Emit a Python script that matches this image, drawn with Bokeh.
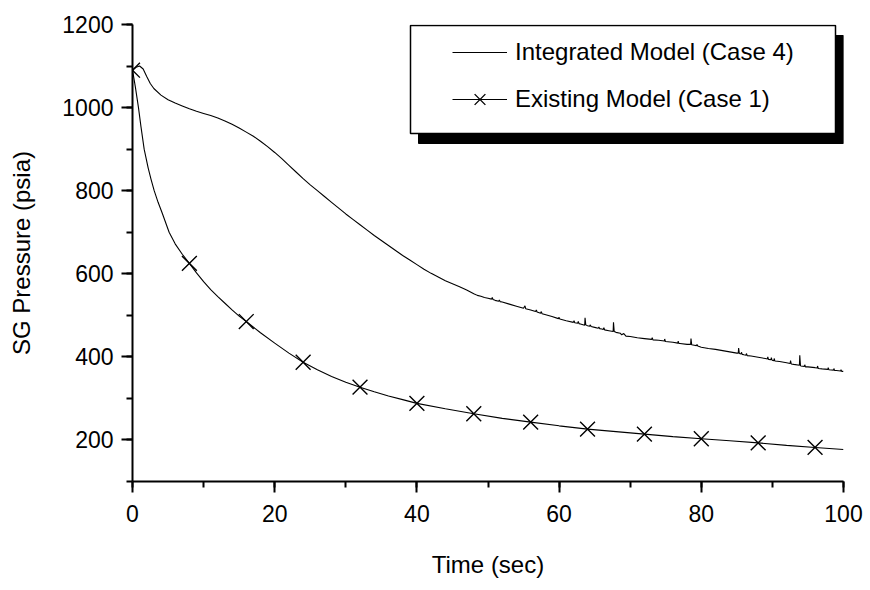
from bokeh.plotting import figure
from bokeh.models import Range1d, SingleIntervalTicker, Legend, LegendItem, BoxAnnotation
from bokeh.embed import file_html
from bokeh.resources import INLINE

# ---- data ----
# Integrated Model (Case 4): smooth early part
t_int_head = [0, 0.5, 1, 1.5, 2, 2.5, 3, 4, 5, 6, 7, 8, 9, 10, 11, 12, 13, 14, 15, 16, 17, 18, 19, 20,
              21, 22, 23, 24, 25, 26, 27, 28, 29, 30, 31, 32, 33, 34, 35, 36, 37, 38, 39, 40, 41, 42,
              43, 44, 45, 46, 47, 48]
p_int_head = [1090, 1097, 1100, 1093, 1075, 1058, 1046, 1030, 1019, 1011, 1004, 997, 991, 986, 981,
              975, 968, 960, 951, 941, 931, 919, 906, 892, 877, 861, 845, 829, 814, 800, 786, 772,
              758, 744, 731, 718, 705, 692, 680, 668, 656, 644, 633, 622, 611, 601, 592, 583, 576,
              569, 561, 552]
# Integrated Model (Case 4): noisy late part
t_int_tail = [48.5, 49, 49.5, 50, 50.5, 50.6, 50.7, 51, 51.5, 51.6, 51.7, 52, 53, 54, 55, 55.2, 55.3,
              56, 56.7, 56.8, 56.9, 57.4, 57.5, 57.6, 58, 59, 59.9, 60, 60.1, 61, 62, 62.1, 62.2,
              62.6, 62.7, 62.8, 63, 63.6, 63.65, 63.75, 64, 64.3, 64.4, 64.5, 65, 65.5, 65.6, 65.7,
              66, 66.2, 66.3, 66.4, 67, 67.6, 67.65, 67.75, 68, 68.6, 68.8, 69.1, 69.4, 70, 71, 72,
              73, 73.1, 73.2, 74, 74.8, 74.85, 74.95, 76, 76.7, 76.75, 76.85, 77, 78, 78.5, 78.55,
              78.65, 79, 79.3, 79.4, 79.5, 80, 81, 82, 83, 84, 85, 85.2, 85.25, 85.35, 85.6, 85.65,
              85.75, 86, 86.3, 86.35, 86.45, 87, 88, 89, 89.3, 89.35, 89.45, 89.8, 89.85, 89.95,
              90.2, 90.25, 90.35, 91, 92, 92.5, 92.55, 92.65, 93, 93.8, 93.85, 93.95, 94, 94.5,
              94.55, 94.65, 95, 96, 96.3, 96.35, 96.45, 97, 97.8, 97.85, 97.95, 98.6, 98.65, 98.75,
              99, 99.6, 99.65, 99.75, 100]
p_int_tail = [548, 546, 543, 541, 539, 543, 538, 536, 534, 537, 533, 532, 527, 522, 517, 523, 516,
              513, 509, 513, 508, 505, 509, 504, 502, 497, 492, 495, 491, 487, 483, 487, 482,
              481, 485, 480, 479, 476, 494, 477, 475, 474, 477, 473, 471, 469, 472, 468,
              467, 466, 470, 465, 463, 461, 483, 461, 459, 457, 453, 456, 450, 449, 446, 444,
              442, 446, 441, 440, 438, 443, 437, 435, 433, 438, 432, 432, 430, 430, 444,
              429, 428, 427, 430, 426, 423, 420, 418, 415, 412, 409, 409, 421, 408, 407, 411,
              406, 405, 404, 408, 403, 402, 399, 396, 395, 400, 394, 393, 398, 392,
              391, 396, 390, 389, 386, 384, 391, 383, 382, 380, 404, 379, 378, 377,
              381, 376, 376, 374, 373, 378, 372, 371, 370, 374, 369, 368, 372, 367,
              367, 366, 369, 365, 365]

# Existing Model (Case 1)
t_existing = [0, 0.4, 0.84, 1.2, 1.64, 2.2, 2.6, 3.05, 3.6, 4.2, 5.15, 6, 7, 8, 9, 10, 11, 12, 13, 14,
              15, 16, 18, 20, 22, 24, 26, 28, 30, 32, 34, 36, 38, 40, 44, 48, 52, 56, 60, 64, 68, 72,
              76, 80, 84, 88, 92, 96, 100]
p_existing = [1090, 1050, 1000, 953, 900, 855, 828, 800, 772, 745, 700, 672, 647, 625, 602, 581, 562,
              545, 529, 513, 498, 485, 458, 433, 409, 387, 369, 353, 339, 327, 316, 306, 297, 288, 275,
              263, 252, 243, 234, 226, 220, 214, 208, 203, 198, 193, 187, 182, 177]
t_markers = [0, 8, 16, 24, 32, 40, 48, 56, 64, 72, 80, 88, 96]
p_markers = [1090, 625, 485, 387, 327, 288, 263, 243, 226, 214, 203, 193, 182]

t_integrated = t_int_head + t_int_tail
p_integrated = p_int_head + p_int_tail

FONT = "Liberation Sans"

p = figure(width=870, height=590, x_range=Range1d(0, 100), y_range=Range1d(100, 1200),
           output_backend="svg", toolbar_location=None,
           min_border_left=132, min_border_right=27, min_border_top=24, min_border_bottom=109)
p.outline_line_color = None
p.xgrid.visible = False
p.ygrid.visible = False
p.background_fill_color = "white"

p.xaxis.ticker = SingleIntervalTicker(interval=20, num_minor_ticks=2)
p.yaxis.ticker = SingleIntervalTicker(interval=200, num_minor_ticks=2)
for ax in (p.xaxis, p.yaxis):
    ax.axis_line_width = 2
    ax.axis_line_color = "black"
    ax.major_tick_line_width = 2
    ax.minor_tick_line_width = 2
    ax.major_tick_line_color = "black"
    ax.minor_tick_line_color = "black"
    ax.major_tick_out = 11
    ax.major_tick_in = 0
    ax.minor_tick_out = 6
    ax.minor_tick_in = 0
    ax.major_label_text_font = FONT
    ax.major_label_text_font_size = "23px"
    ax.major_label_text_color = "black"
    ax.axis_label_text_font = FONT
    ax.axis_label_text_font_size = "24px"
    ax.axis_label_text_font_style = "normal"
    ax.axis_label_text_color = "black"
p.xaxis.axis_label = "Time (sec)"
p.yaxis.axis_label = "SG Pressure (psia)"
p.xaxis.major_label_standoff = 12
p.yaxis.major_label_standoff = 8
p.xaxis.axis_label_standoff = 26
p.yaxis.axis_label_standoff = 24

r_int = p.line(t_integrated, p_integrated, line_color="black", line_width=1.1)
r_ex_line = p.line(t_existing, p_existing, line_color="black", line_width=1.1)
r_ex_mark = p.scatter(t_markers, p_markers, marker="x", size=21, line_color="black", line_width=1.4)

# legend frame with drop shadow (screen units relative to frame, y up)
shadow = BoxAnnotation(left=286, right=711, top=446, bottom=338,
                       left_units="screen", right_units="screen", top_units="screen", bottom_units="screen",
                       fill_color="black", fill_alpha=1, line_color="black", line_alpha=1)
box = BoxAnnotation(left=278, right=703, top=456, bottom=348,
                    left_units="screen", right_units="screen", top_units="screen", bottom_units="screen",
                    fill_color="white", fill_alpha=1, line_color="black", line_width=1.5, line_alpha=1)
p.add_layout(shadow)
p.add_layout(box)

legend = Legend(items=[LegendItem(label="Integrated Model (Case 4)", renderers=[r_int]),
                       LegendItem(label="Existing Model (Case 1)", renderers=[r_ex_line, r_ex_mark])],
                location=(310, 353), orientation="vertical",
                glyph_width=55, glyph_height=38, label_height=38, label_standoff=8,
                spacing=9, padding=10, margin=0,
                label_text_font=FONT, label_text_font_size="24px", label_text_color="black",
                background_fill_alpha=0, border_line_alpha=0)
p.add_layout(legend)

open("out.html", "w").write(file_html(p, INLINE))
